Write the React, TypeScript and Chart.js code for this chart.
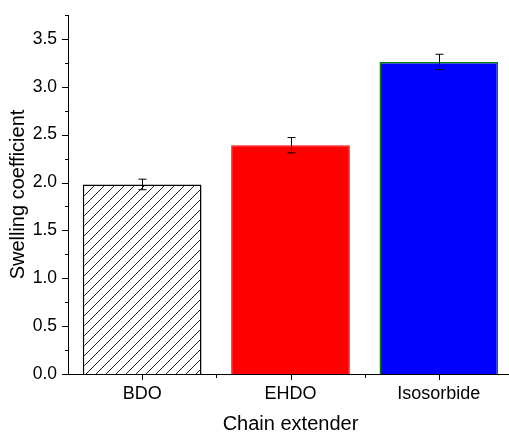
import React, { useEffect, useRef } from "react";
import { Chart, registerables } from "chart.js";

Chart.register(...registerables);

const categories = ["BDO", "EHDO", "Isosorbide"];
const swelling = [1.98, 2.39, 3.26];
const swellingError = [0.055, 0.08, 0.08];
const yTicks = [0, 0.5, 1.0, 1.5, 2.0, 2.5, 3.0, 3.5];
const yMinorTicks = [0.25, 0.75, 1.25, 1.75, 2.25, 2.75, 3.25, 3.75];
const yMin = 0;
const yMax = 3.75;
const xTitle = "Chain extender";
const yTitle = "Swelling coefficient";

function makeHatch(): CanvasPattern | string {
  const c = document.createElement("canvas");
  c.width = 10;
  c.height = 10;
  const g = c.getContext("2d");
  if (!g) return "#fff";
  g.fillStyle = "#ffffff";
  g.fillRect(0, 0, 10, 10);
  g.strokeStyle = "#222";
  g.lineWidth = 1;
  g.beginPath();
  g.moveTo(0, 10);
  g.lineTo(10, 0);
  g.moveTo(-5, 5);
  g.lineTo(5, -5);
  g.moveTo(5, 15);
  g.lineTo(15, 5);
  g.stroke();
  const p = g.createPattern(c, "repeat");
  return p || "#fff";
}

const extrasPlugin = {
  id: "extras",
  afterDatasetsDraw(chart: any) {
    const ctx = chart.ctx;
    const y = chart.scales.y;
    const meta = chart.getDatasetMeta(0);
    ctx.save();
    ctx.strokeStyle = "#000";
    ctx.lineWidth = 1;
    meta.data.forEach((el: any, i: number) => {
      const v = swelling[i];
      const e = swellingError[i];
      const x = Math.round(el.x) + 0.5;
      const yt = y.getPixelForValue(v + e);
      const yb = y.getPixelForValue(v - e);
      ctx.beginPath();
      ctx.moveTo(x, yt);
      ctx.lineTo(x, yb);
      ctx.moveTo(x - 4, yt);
      ctx.lineTo(x + 4, yt);
      ctx.moveTo(x - 4, yb);
      ctx.lineTo(x + 4, yb);
      ctx.stroke();
    });
    ctx.restore();
  },
  afterDraw(chart: any) {
    const ctx = chart.ctx;
    const y = chart.scales.y;
    const x = chart.scales.x;
    const area = chart.chartArea;
    ctx.save();
    ctx.strokeStyle = "#000";
    ctx.lineWidth = 1;
    ctx.beginPath();
    const lx = area.left;
    yTicks.forEach((v) => {
      const py = Math.round(y.getPixelForValue(v)) + 0.5;
      ctx.moveTo(lx - 6, py);
      ctx.lineTo(lx, py);
    });
    yMinorTicks.forEach((v) => {
      const py = Math.round(y.getPixelForValue(v)) + 0.5;
      ctx.moveTo(lx - 3, py);
      ctx.lineTo(lx, py);
    });
    const by = area.bottom;
    categories.forEach((_, i) => {
      const px = Math.round(x.getPixelForValue(i)) + 0.5;
      ctx.moveTo(px, by);
      ctx.lineTo(px, by + 6);
    });
    for (let i = 0; i < categories.length - 1; i++) {
      const px = Math.round(x.getPixelForValue(i + 0.5)) + 0.5;
      ctx.moveTo(px, by);
      ctx.lineTo(px, by + 4);
    }
    ctx.stroke();
    ctx.restore();
  },
};

export default function App() {
  const ref = useRef<HTMLCanvasElement>(null);
  useEffect(() => {
    if (!ref.current) return;
    const hatch = makeHatch();
    const chart = new Chart(ref.current, {
      type: "bar",
      data: {
        labels: categories,
        datasets: [
          {
            data: swelling,
            backgroundColor: [hatch as any, "#ff0000", "#0000ff"],
            borderColor: ["#000000", "#ff0000", "#008000"],
            borderWidth: [1.5, 1, 1.5],
            barPercentage: 0.8,
            categoryPercentage: 1,
          },
        ],
      },
      options: {
        animation: false,
        responsive: false,
        devicePixelRatio: 1,
        layout: { padding: { top: 15, left: 0, right: 0, bottom: 0 } },
        plugins: { legend: { display: false }, tooltip: { enabled: false } },
        scales: {
          x: {
            type: "category",
            offset: true,
            grid: { display: false, drawTicks: false },
            border: { display: true, color: "#000", width: 1 },
            ticks: {
              color: "#000",
              padding: 9,
              font: { family: "'Liberation Sans', Arial, sans-serif", size: 18 },
              maxRotation: 0,
            },
            title: {
              display: true,
              text: xTitle,
              color: "#000",
              font: { family: "'Liberation Sans', Arial, sans-serif", size: 20 },
              padding: { top: 0, bottom: -4 },
            },
            afterFit: (s: any) => {
              s.height = 58;
              s.paddingLeft = 0;
              s.paddingRight = 0;
            },
          },
          y: {
            min: yMin,
            max: yMax,
            grid: { display: false, drawTicks: false },
            border: { display: true, color: "#000", width: 1 },
            afterBuildTicks: (s: any) => {
              s.ticks = yTicks.map((v) => ({ value: v }));
            },
            ticks: {
              color: "#000",
              padding: 11,
              font: { family: "'Liberation Sans', Arial, sans-serif", size: 17.5 },
              callback: (v: any) => Number(v).toFixed(1),
            },
            title: {
              display: true,
              text: yTitle,
              color: "#000",
              font: { family: "'Liberation Sans', Arial, sans-serif", size: 20 },
              padding: { top: 6, bottom: 0 },
            },
            afterFit: (s: any) => {
              s.width = 68;
              s.paddingTop = 0;
              s.paddingBottom = 0;
            },
          },
        },
      },
      plugins: [extrasPlugin],
    });
    return () => chart.destroy();
  }, []);
  return (
    <div
      style={{
        position: "fixed",
        left: 0,
        top: 0,
        width: 509,
        height: 432,
        overflow: "hidden",
        background: "#fff",
      }}
    >
      <canvas ref={ref} width={513} height={432} style={{ display: "block" }} />
    </div>
  );
}
